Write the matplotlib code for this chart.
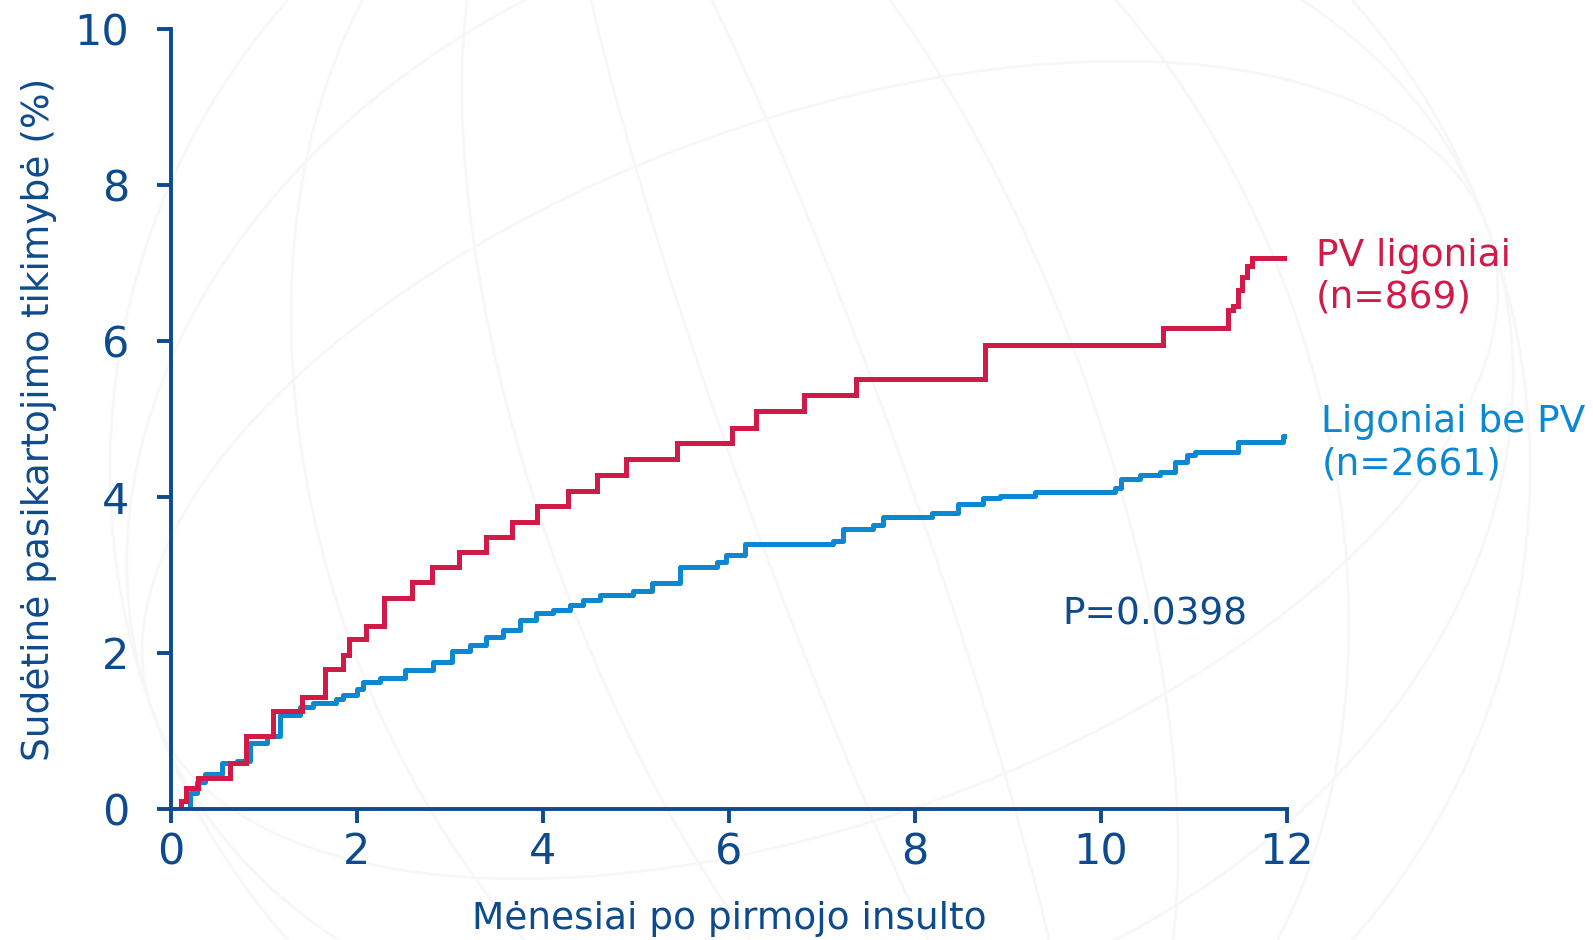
import matplotlib
matplotlib.use("Agg")
import matplotlib.pyplot as plt
import matplotlib.patches as mpatches

# Kaplan-Meier style cumulative recurrence (%), months after first stroke
pv_months = [0.0, 0.11, 0.16, 0.29, 0.63, 0.81, 1.10, 1.41, 1.66, 1.85, 1.92,
             2.10, 2.29, 2.59, 2.81, 3.10, 3.39, 3.67, 3.94, 4.27, 4.58,
             4.89, 5.44, 6.03, 6.29, 6.81, 7.37, 8.75, 10.67, 11.37, 11.42,
             11.47, 11.52, 11.57, 11.62, 12.0]
pv_risk = [0.0, 0.10, 0.27, 0.40, 0.59, 0.93, 1.26, 1.44, 1.79, 1.97, 2.18,
           2.35, 2.71, 2.91, 3.10, 3.29, 3.49, 3.68, 3.88, 4.08, 4.28,
           4.49, 4.69, 4.89, 5.10, 5.31, 5.51, 5.95, 6.17, 6.40, 6.45,
           6.65, 6.82, 6.96, 7.06, 7.06]

nopv_months = [0.0, 0.20, 0.28, 0.37, 0.55, 0.71, 0.85, 1.03, 1.17, 1.39,
               1.53, 1.78, 1.85, 2.00, 2.07, 2.25, 2.52, 2.82, 3.02, 3.22,
               3.39, 3.57, 3.75, 3.93, 4.11, 4.29, 4.43, 4.61, 4.97, 5.17,
               5.47, 5.87, 5.97, 6.17, 7.12, 7.23, 7.55, 7.66, 8.18, 8.46,
               8.73, 8.91, 9.29, 10.15, 10.22, 10.42, 10.63, 10.80, 10.92,
               11.01, 11.47, 11.96, 12.0]
nopv_risk = [0.0, 0.20, 0.35, 0.45, 0.59, 0.62, 0.85, 0.93, 1.21, 1.31,
             1.36, 1.41, 1.46, 1.54, 1.63, 1.68, 1.78, 1.89, 2.02, 2.10,
             2.21, 2.29, 2.42, 2.51, 2.55, 2.62, 2.68, 2.74, 2.80, 2.90,
             3.10, 3.17, 3.26, 3.40, 3.44, 3.59, 3.64, 3.75, 3.80, 3.91,
             3.99, 4.01, 4.07, 4.12, 4.23, 4.28, 4.32, 4.45, 4.54,
             4.58, 4.71, 4.78, 4.78]

x_ticks = [0, 2, 4, 6, 8, 10, 12]
y_ticks = [0, 2, 4, 6, 8, 10]

NAVY = "#0d4b8e"
RED = "#d21a48"
BLUE = "#0b88d1"

plt.rcParams["font.family"] = ["DejaVu Sans"]

fig = plt.figure(figsize=(15.93, 9.40), dpi=100)

# very faint globe watermark behind the chart
bg = fig.add_axes([0, 0, 1, 1], zorder=0)
bg.set_xlim(0, 1593)
bg.set_ylim(940, 0)
bg.axis("off")
for w in [1420, 1000, 560, 160]:
    bg.add_patch(mpatches.Ellipse((820, 470), w, 1420, angle=-20, fill=False,
                                  ec="#f7f7f7", lw=2))
for h in [700, 1100]:
    bg.add_patch(mpatches.Ellipse((820, 470), 1420, h, angle=-20, fill=False,
                                  ec="#f7f7f7", lw=2))

ax = fig.add_axes([0.1073, 0.1394, 0.7006, 0.8296], zorder=1)
ax.patch.set_alpha(0)

ax.step(pv_months, pv_risk, where="post", color=RED, lw=3.6,
        solid_joinstyle="miter", zorder=3)
ax.step(nopv_months, nopv_risk, where="post", color=BLUE, lw=3.6,
        solid_joinstyle="round", zorder=2)

ax.set_xlim(0, 12)
ax.set_ylim(0, 10)
ax.set_xticks(x_ticks)
ax.set_yticks(y_ticks)
ax.tick_params(axis="both", colors=NAVY, labelcolor=NAVY, labelsize=31,
               width=2.8, length=10, direction="out")
ax.tick_params(axis="y", pad=20)
ax.tick_params(axis="x", pad=6)

for side in ["top", "right"]:
    ax.spines[side].set_visible(False)
for side in ["left", "bottom"]:
    ax.spines[side].set_color(NAVY)
    ax.spines[side].set_linewidth(2.8)
ax.spines["left"].set_zorder(4)
ax.spines["bottom"].set_zorder(4)

ax.set_xlabel("Mėnesiai po pirmojo insulto", fontsize=27, color=NAVY,
              labelpad=20)
ax.set_ylabel("Sudėtinė pasikartojimo tikimybė (%)", fontsize=27, color=NAVY)
ax.yaxis.set_label_coords(-0.102, 0.5)

ax.text(12.31, 7.09, "PV ligoniai", color=RED, fontsize=27,
        ha="left", va="center", clip_on=False)
ax.text(12.31, 6.56, "(n=869)", color=RED, fontsize=27,
        ha="left", va="center", clip_on=False)
ax.text(12.37, 4.96, "Ligoniai be PV", color=BLUE, fontsize=27,
        ha="left", va="center", clip_on=False)
ax.text(12.37, 4.42, "(n=2661)", color=BLUE, fontsize=27,
        ha="left", va="center", clip_on=False)
ax.text(9.58, 2.5, "P=0.0398", color=NAVY, fontsize=27,
        ha="left", va="center")

fig.savefig("out.png", dpi=100)
